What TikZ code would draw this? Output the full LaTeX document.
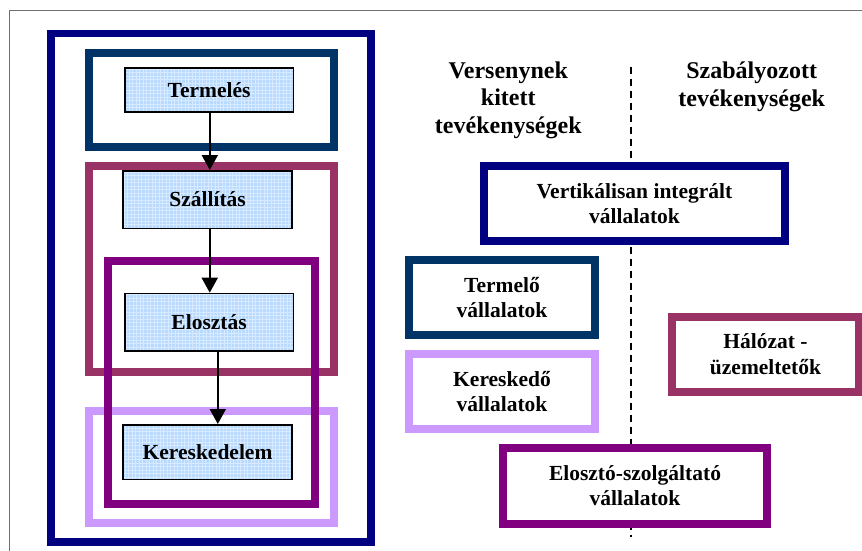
\documentclass[tikz,border=0pt]{standalone}
\usepackage{fontspec}
\setmainfont{Liberation Serif}
\usetikzlibrary{arrows.meta}

\definecolor{navyc}{HTML}{000080}
\definecolor{deepblue}{HTML}{003366}
\definecolor{plum}{HTML}{993366}
\definecolor{violet}{HTML}{800080}
\definecolor{lilac}{HTML}{CC99FF}
\definecolor{stepfill}{RGB}{184,218,255}
\definecolor{framegray}{HTML}{707070}

\tikzset{
  boxtext/.style={font=\bfseries\fontsize{21.5}{25.5}\selectfont, align=center},
  headtext/.style={font=\bfseries\fontsize{24}{27.5}\selectfont, align=center, inner sep=0pt},
  groupbox/.style={draw=#1, line width=8pt, inner sep=0pt, anchor=north west},
  firmbox/.style={draw=#1, line width=8pt, fill=white, inner sep=0pt, anchor=north west, boxtext},
  stepbox/.style={draw=black, line width=1.5pt, fill=stepfill, inner sep=0pt, anchor=north west, boxtext,
    path picture={\draw[white, opacity=0.45, line width=0.6pt, step=3.5pt]
      (path picture bounding box.south west) grid (path picture bounding box.north east);}},
  flow/.style={line width=2pt, -{Triangle[width=16pt,length=15pt]}},
}

\begin{document}
\begin{tikzpicture}[x=1pt, y=-1pt]
  \useasboundingbox (0,0) rectangle (862,551);

  % page frame
  \draw[framegray, line width=1pt] (9.5,560) -- (9.5,11) -- (870,11);

  % value chain groups
  \node[groupbox=navyc, line width=7.5pt, minimum width=320pt, minimum height=508pt] (chain) at (47,30) {};
  \node[groupbox=deepblue, minimum width=245pt, minimum height=93.7pt] (gprod) at (85,49) {};
  \node[groupbox=plum, minimum width=245pt, minimum height=206pt] (gnet) at (85,162.3) {};
  \node[groupbox=lilac, minimum width=245pt, minimum height=112.5pt] (gtrade) at (85,406.5) {};
  \node[groupbox=violet, minimum width=207pt, minimum height=243.8pt] (gdist) at (104,256.5) {};

  % activity steps
  \node[stepbox, minimum width=168.7pt, minimum height=43.7pt] (prod) at (124,67.3) {Termelés};
  \node[stepbox, minimum width=169pt, minimum height=57.7pt] (trans) at (122.3,170) {Szállítás};
  \node[stepbox, minimum width=168.7pt, minimum height=57.3pt] (dist) at (124,292.7) {Elosztás};
  \node[stepbox, minimum width=169pt, minimum height=54.7pt] (trade) at (122.3,424) {Kereskedelem};

  \draw[flow] ([xshift=0.7pt]prod.south) -- ([xshift=0.7pt]prod.south |- trans.north);
  \draw[flow] ([xshift=2.2pt]trans.south) -- ([xshift=2.2pt]trans.south |- dist.north);
  \draw[flow] ([xshift=8.7pt]dist.south) -- ([xshift=8.7pt]dist.south |- trade.north);

  % column headings and divider
  \node[headtext] (hcomp) at (508.3,100) {Versenynek\\kitett\\tevékenységek};
  \node[headtext] (hreg) at (751.7,87) {Szabályozott\\tevékenységek};
  \coordinate (dtop) at (630.7,66.7);
  \coordinate (dbot) at (630.7,536.7);
  \draw[black, line width=1.8pt, dash pattern=on 7pt off 5pt] (dtop) -- (dbot);

  % company types
  \node[firmbox=navyc, minimum width=301pt, minimum height=75pt] (vert) at (480,162) {Vertikálisan integrált\\vállalatok};
  \node[firmbox=deepblue, minimum width=186pt, minimum height=75pt] (fprod) at (405,256) {Termelő\\vállalatok};
  \node[firmbox=lilac, minimum width=186pt, minimum height=75pt] (ftrade) at (405,350) {Kereskedő\\vállalatok};
  \node[firmbox=plum, minimum width=187pt, minimum height=75.5pt] (fnet) at (668,312.5) {Hálózat -\\üzemeltetők};
  \node[firmbox=violet, minimum width=264pt, minimum height=75.5pt] (fdist) at (499,444) {Elosztó-szolgáltató\\vállalatok};
\end{tikzpicture}
\end{document}
